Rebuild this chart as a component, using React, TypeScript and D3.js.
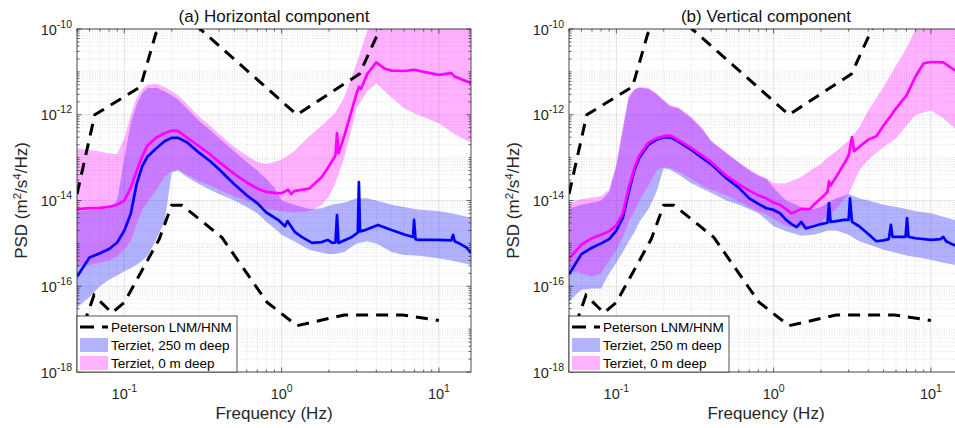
import React from 'react';
import * as d3 from 'd3';

// ---------------- DATA ----------------
// Frequencies (Hz) at which the percentile bands were read
const BAND_FREQ = [0.05, 0.06, 0.07, 0.08, 0.09, 0.1, 0.11, 0.12, 0.13, 0.14, 0.16, 0.18, 0.2, 0.22, 0.25, 0.3, 0.35, 0.4, 0.5, 0.6, 0.7, 0.8, 0.9, 1.0, 1.2, 1.5, 1.8, 2.0, 2.2, 2.5, 3.0, 3.5, 4, 5, 6, 7, 8, 10, 12, 14, 16];

// log10 PSD values, panel (a) horizontal
const A_BLUE_HI = [-14.25, -14.22, -14.2, -14.18, -14.0, -13.0, -12.2, -11.75, -11.5, -11.38, -11.37, -11.45, -11.55, -11.65, -11.85, -12.15, -12.35, -12.55, -12.85, -13.1, -13.3, -13.5, -13.7, -14.0, -14.1, -14.2, -14.18, -14.12, -14.08, -14.05, -13.95, -13.95, -14.0, -14.1, -14.15, -14.2, -14.22, -14.25, -14.3, -14.35, -14.4];
const A_BLUE_LO = [-16.5, -16.25, -16.0, -15.85, -15.75, -15.65, -15.58, -15.5, -15.4, -15.3, -14.9, -14.5, -13.35, -13.3, -13.45, -13.62, -13.75, -13.85, -14.0, -14.15, -14.3, -14.5, -14.65, -14.8, -14.95, -15.15, -15.22, -15.25, -15.25, -15.2, -15.0, -14.95, -15.0, -15.2, -15.27, -15.28, -15.3, -15.35, -15.4, -15.45, -15.5];
const A_PINK_HI = [-12.78, -12.82, -12.86, -12.9, -12.92, -12.55, -12.0, -11.6, -11.4, -11.3, -11.28, -11.35, -11.45, -11.55, -11.75, -12.05, -12.25, -12.45, -12.75, -12.95, -13.1, -13.15, -13.1, -13.05, -12.85, -12.5, -12.25, -12.1, -11.95, -11.6, -10.8, -10.05, -9.7, -9.6, -9.6, -9.6, -9.6, -9.6, -9.6, -9.6, -9.6];
const A_PINK_LO = [-15.55, -15.5, -15.45, -15.4, -15.3, -15.15, -14.95, -14.55, -14.2, -14.05, -13.75, -13.45, -13.3, -13.28, -13.4, -13.55, -13.65, -13.75, -13.9, -14.0, -14.1, -14.2, -14.22, -14.25, -14.28, -14.25, -14.1, -13.9, -13.6, -13.0, -11.85, -11.45, -11.27, -11.6, -11.85, -11.97, -12.05, -12.2, -12.4, -12.55, -12.65];

const A_MAG_FREQ = [0.05, 0.06, 0.07, 0.08, 0.09, 0.1, 0.11, 0.12, 0.13, 0.14, 0.16, 0.18, 0.2, 0.22, 0.25, 0.3, 0.35, 0.4, 0.5, 0.6, 0.7, 0.8, 0.9, 1.0, 1.1, 1.15, 1.2, 1.5, 1.8, 2.0, 2.2, 2.25, 2.3, 2.5, 3.0, 3.1, 3.2, 3.5, 4, 4.5, 5, 6, 7, 8, 10, 12, 12.5, 14, 16];
const A_MAG_VAL = [-14.2, -14.18, -14.17, -14.15, -14.1, -14.0, -13.7, -13.3, -12.97, -12.72, -12.53, -12.43, -12.37, -12.38, -12.53, -12.74, -12.92, -13.1, -13.38, -13.58, -13.72, -13.8, -13.82, -13.83, -13.75, -13.85, -13.78, -13.72, -13.45, -13.2, -12.95, -12.43, -12.9, -12.5, -11.5, -11.35, -11.4, -11.05, -10.78, -10.92, -10.97, -10.98, -10.95, -11.0, -11.07, -11.03, -11.1, -11.18, -11.26];

const A_BLU_FREQ = [0.05, 0.06, 0.07, 0.08, 0.09, 0.1, 0.11, 0.12, 0.13, 0.14, 0.16, 0.18, 0.2, 0.22, 0.25, 0.3, 0.35, 0.4, 0.5, 0.6, 0.7, 0.8, 0.95, 1.05, 1.09, 1.21, 1.34, 1.56, 1.8, 1.96, 2.1, 2.2, 2.25, 2.3, 2.8, 3.05, 3.1, 3.15, 3.4, 4.1, 5.0, 6.1, 6.85, 6.95, 7.1, 7.4, 9.9, 12.0, 12.3, 12.6, 13.3, 15, 16];
const A_BLU_VAL = [-15.78, -15.33, -15.23, -15.13, -14.98, -14.7, -14.3, -13.6, -13.2, -12.98, -12.78, -12.62, -12.54, -12.54, -12.64, -12.89, -13.08, -13.27, -13.62, -13.88, -14.06, -14.28, -14.45, -14.6, -14.48, -14.73, -14.85, -14.99, -14.97, -14.92, -14.99, -14.98, -14.34, -14.99, -14.85, -14.75, -13.57, -14.72, -14.69, -14.57, -14.69, -14.8, -14.85, -14.45, -14.9, -14.92, -14.92, -14.93, -14.8, -14.95, -14.99, -15.1, -15.22];

// log10 PSD values, panel (b) vertical
const B_BLUE_HI = [-14.2, -14.1, -14.05, -14.0, -13.8, -13.2, -12.35, -11.6, -11.42, -11.37, -11.4, -11.52, -11.68, -11.8, -11.86, -12.08, -12.33, -12.62, -12.9, -13.12, -13.3, -13.42, -13.5, -13.7, -14.0, -14.15, -14.2, -14.15, -14.05, -13.95, -13.85, -13.95, -14.0, -14.1, -14.15, -14.2, -14.25, -14.3, -14.38, -14.45, -14.5];
const B_BLUE_LO = [-16.35, -16.08, -16.05, -16.05, -15.7, -15.45, -15.2, -14.95, -14.75, -14.5, -14.2, -13.8, -13.25, -13.28, -13.4, -13.6, -13.72, -13.82, -14.0, -14.1, -14.2, -14.3, -14.45, -14.6, -14.72, -14.82, -14.8, -14.75, -14.7, -14.7, -14.8, -14.95, -15.02, -15.15, -15.22, -15.28, -15.32, -15.38, -15.45, -15.5, -15.52];
const B_PINK_HI = [-14.05, -13.97, -13.93, -13.9, -13.75, -13.15, -12.3, -11.55, -11.4, -11.35, -11.37, -11.5, -11.65, -11.78, -11.83, -12.05, -12.3, -12.6, -12.88, -13.1, -13.27, -13.4, -13.48, -13.6, -13.6, -13.45, -13.25, -13.15, -13.0, -12.85, -12.6, -12.3, -11.9, -11.35, -10.85, -10.45, -10.0, -9.6, -9.5, -9.5, -9.5];
const B_PINK_LO = [-15.62, -15.7, -15.78, -15.7, -15.4, -15.15, -14.85, -14.5, -14.25, -14.0, -13.65, -13.3, -13.22, -13.25, -13.33, -13.5, -13.65, -13.75, -13.88, -14.02, -14.15, -14.25, -14.32, -14.42, -14.6, -14.65, -14.6, -14.5, -14.35, -14.2, -13.85, -13.3, -13.05, -12.75, -12.55, -12.25, -12.0, -11.9, -12.08, -12.3, -12.4];

const B_MAG_FREQ = [0.05, 0.06, 0.07, 0.08, 0.09, 0.1, 0.11, 0.12, 0.13, 0.14, 0.16, 0.18, 0.2, 0.22, 0.25, 0.3, 0.35, 0.4, 0.5, 0.6, 0.7, 0.8, 0.9, 1.0, 1.1, 1.2, 1.3, 1.5, 1.7, 1.8, 2.0, 2.2, 2.25, 2.3, 2.5, 2.8, 3.0, 3.15, 3.25, 3.5, 4.0, 4.5, 5, 5.5, 6, 7, 8, 9, 10, 12, 14, 16];
const B_MAG_VAL = [-15.36, -15.03, -14.88, -14.8, -14.72, -14.58, -14.3, -13.7, -13.25, -12.95, -12.65, -12.55, -12.5, -12.48, -12.6, -12.78, -12.95, -13.1, -13.42, -13.62, -13.77, -13.88, -13.95, -14.05, -14.1, -14.2, -14.3, -14.2, -14.2, -14.1, -13.95, -13.8, -13.55, -13.65, -13.45, -13.15, -12.95, -12.52, -12.85, -12.75, -12.58, -12.5, -12.25, -12.05, -11.85, -11.55, -11.1, -10.8, -10.77, -10.78, -10.95, -11.05];

const B_BLU_FREQ = [0.05, 0.06, 0.07, 0.08, 0.09, 0.1, 0.11, 0.12, 0.13, 0.14, 0.16, 0.18, 0.2, 0.22, 0.25, 0.3, 0.35, 0.4, 0.5, 0.6, 0.7, 0.8, 0.9, 1.0, 1.1, 1.2, 1.3, 1.4, 1.5, 1.6, 1.8, 2.0, 2.2, 2.25, 2.3, 2.5, 2.8, 3.0, 3.06, 3.15, 3.5, 4, 4.5, 5, 5.4, 5.57, 5.7, 6, 6.9, 7.05, 7.2, 8, 10, 11.5, 12, 12.5, 14, 16];
const B_BLU_VAL = [-15.72, -15.25, -15.1, -15.0, -14.9, -14.7, -14.4, -13.8, -13.3, -13.0, -12.7, -12.58, -12.53, -12.52, -12.63, -12.82, -13.0, -13.15, -13.48, -13.7, -13.95, -14.08, -14.18, -14.22, -14.3, -14.45, -14.55, -14.62, -14.5, -14.65, -14.6, -14.55, -14.52, -14.06, -14.5, -14.48, -14.45, -14.45, -13.95, -14.5, -14.6, -14.78, -14.95, -14.93, -14.9, -14.57, -14.85, -14.85, -14.85, -14.41, -14.85, -14.88, -14.92, -14.9, -14.85, -14.95, -15.04, -15.06];

// Peterson noise models (frequency Hz, log10 PSD)
const NLNM_FREQ = [0.05, 0.0641, 0.0833, 0.1, 0.1667, 0.2, 0.2326, 0.4167, 0.8065, 1.25, 2.5, 5.88, 10];
const NLNM_VAL = [-17.34, -16.21, -16.62, -16.375, -14.9, -14.11, -14.11, -14.86, -16.37, -16.92, -16.67, -16.67, -16.8];
const NHNM_FREQ = [0.05, 0.0649, 0.1266, 0.1587, 0.2174, 0.2632, 1.25, 3.125, 4.545, 10];
const NHNM_VAL = [-13.85, -12.0, -11.35, -10.1, -9.65, -9.8, -12.0, -11.05, -9.74, -9.15];

const TITLES = ['(a) Horizontal component', '(b) Vertical component'];
const LEGEND_LABELS = ['Peterson LNM/HNM', 'Terziet, 250 m deep', 'Terziet, 0 m deep'];
const X_LABEL = 'Frequency (Hz)';
const X_DOMAIN = [0.05, 16];
const Y_DOMAIN = [1e-18, 1e-10];
const X_MAJOR = [0.1, 1, 10];
const Y_MAJOR = [1e-18, 1e-16, 1e-14, 1e-12, 1e-10];

// ---------------- LAYOUT ----------------
const W = 955, H = 428;
const PW = 394, TOP = 29, BOT = 372;
const FONT = '"Liberation Sans", Arial, Helvetica, sans-serif';
const AX = '#262626';
const BLUE = '#0000ff';
const MAG = '#ff00ff';

type Pt = [number, number];
const pts = (fr: number[], v: number[]): Pt[] => fr.map((f, i) => [f, Math.pow(10, v[i])] as Pt);

function Panel(props: any) {
  const { idx, left, bands, mag, blu } = props;
  const x = d3.scaleLog().domain(X_DOMAIN).range([left, left + PW]);
  const y = d3.scaleLog().domain(Y_DOMAIN).range([BOT, TOP]);
  const clipId = 'clip' + idx;

  const area = d3.area<any>().x((d) => x(d.f)).y0((d) => y(d.lo)).y1((d) => y(d.hi));
  const line = d3.line<Pt>().x((d) => x(d[0])).y((d) => y(d[1]));
  const mk = (lo: number[], hi: number[]) => BAND_FREQ.map((f, i) => ({ f, lo: Math.pow(10, lo[i]), hi: Math.pow(10, hi[i]) }));

  // ticks
  const xMinor: number[] = [];
  [0.01, 0.1, 1, 10].forEach((d) => {
    for (let m = 2; m <= 9; m++) {
      const v = m * d;
      if (v >= X_DOMAIN[0] - 1e-9 && v <= X_DOMAIN[1]) xMinor.push(v);
    }
  });
  const yMinor: number[] = [];
  for (let e = -18; e < -10; e++) {
    for (let m = 1; m <= 9; m++) {
      if (m === 1 && e % 2 === 0) continue;
      yMinor.push(m * Math.pow(10, e));
    }
  }
  const right = left + PW;

  return (
    <g>
      <defs>
        <clipPath id={clipId}>
          <rect x={left} y={TOP} width={PW} height={BOT - TOP} />
        </clipPath>
      </defs>
      <rect x={left} y={TOP} width={PW} height={BOT - TOP} fill="#fff" />
      {/* grid */}
      <g stroke={AX} fill="none">
        {xMinor.map((v, i) => (
          <line key={'gx' + i} x1={x(v)} x2={x(v)} y1={TOP} y2={BOT} strokeOpacity={0.22} strokeWidth={0.6} strokeDasharray="1 1.5" />
        ))}
        {yMinor.map((v, i) => (
          <line key={'gy' + i} x1={left} x2={right} y1={y(v)} y2={y(v)} strokeOpacity={0.22} strokeWidth={0.6} strokeDasharray="1 1.5" />
        ))}
        {X_MAJOR.map((v, i) => (
          <line key={'Gx' + i} x1={x(v)} x2={x(v)} y1={TOP} y2={BOT} strokeOpacity={0.15} strokeWidth={0.8} />
        ))}
        {Y_MAJOR.map((v, i) => (
          <line key={'Gy' + i} x1={left} x2={right} y1={y(v)} y2={y(v)} strokeOpacity={0.15} strokeWidth={0.8} />
        ))}
      </g>
      <g clipPath={`url(#${clipId})`}>
        <path d={area(mk(bands.blueLo, bands.blueHi)) || ''} fill={BLUE} fillOpacity={0.3} />
        <path d={area(mk(bands.pinkLo, bands.pinkHi)) || ''} fill={MAG} fillOpacity={0.3} />
        <path d={line(pts(blu[0], blu[1])) || ''} fill="none" stroke={BLUE} strokeWidth={2.7} strokeLinejoin="round" />
        <path d={line(pts(mag[0], mag[1])) || ''} fill="none" stroke={MAG} strokeWidth={2.7} strokeLinejoin="round" />
        <path d={line(pts(NLNM_FREQ, NLNM_VAL)) || ''} fill="none" stroke="#000" strokeWidth={3} strokeDasharray="12 8" />
        <path d={line(pts(NHNM_FREQ, NHNM_VAL)) || ''} fill="none" stroke="#000" strokeWidth={3} strokeDasharray="12 8" />
      </g>
      {/* ticks */}
      <g stroke={AX} strokeWidth={0.7}>
        {X_MAJOR.map((v, i) => (
          <g key={'tx' + i}>
            <line x1={x(v)} x2={x(v)} y1={BOT} y2={BOT - 4.5} />
            <line x1={x(v)} x2={x(v)} y1={TOP} y2={TOP + 4.5} />
          </g>
        ))}
        {xMinor.map((v, i) => (
          <g key={'tmx' + i}>
            <line x1={x(v)} x2={x(v)} y1={BOT} y2={BOT - 2.5} />
            <line x1={x(v)} x2={x(v)} y1={TOP} y2={TOP + 2.5} />
          </g>
        ))}
        {Y_MAJOR.map((v, i) => (
          <g key={'ty' + i}>
            <line x1={left} x2={left + 4.5} y1={y(v)} y2={y(v)} />
            <line x1={right} x2={right - 4.5} y1={y(v)} y2={y(v)} />
          </g>
        ))}
        {yMinor.map((v, i) => (
          <g key={'tmy' + i}>
            <line x1={left} x2={left + 2.5} y1={y(v)} y2={y(v)} />
            <line x1={right} x2={right - 2.5} y1={y(v)} y2={y(v)} />
          </g>
        ))}
      </g>
      <rect x={left} y={TOP} width={PW} height={BOT - TOP} fill="none" stroke={AX} strokeWidth={0.8} />
      {/* tick labels */}
      <g fill={AX} fontFamily={FONT}>
        {X_MAJOR.map((v, i) => (
          <text key={'lx' + i} x={x(v)} y={399} textAnchor="middle" fontSize={14.5}>
            10<tspan dy={-7} fontSize={10.5}>{String(Math.round(Math.log10(v)))}</tspan>
          </text>
        ))}
        {Y_MAJOR.map((v, i) => (
          <text key={'ly' + i} x={left - 5} y={y(v) + 5.5} textAnchor="end" fontSize={14.5}>
            10<tspan dy={-7} fontSize={10.5}>{String(Math.round(Math.log10(v)))}</tspan>
          </text>
        ))}
        <text x={(left + right) / 2} y={419} textAnchor="middle" fontSize={17}>{X_LABEL}</text>
        <text transform={`translate(${left - 50},${(TOP + BOT) / 2}) rotate(-90)`} textAnchor="middle" fontSize={17}>
          PSD (m<tspan dy={-6} fontSize={11.5}>2</tspan>
          <tspan dy={6} fontSize={17}>/s</tspan>
          <tspan dy={-6} fontSize={11.5}>4</tspan>
          <tspan dy={6} fontSize={17}>/Hz)</tspan>
        </text>
        <text x={(left + right) / 2} y={22} textAnchor="middle" fontSize={17} fill="#111">{TITLES[idx]}</text>
      </g>
      {/* legend */}
      <g fontFamily={FONT}>
        <rect x={left} y={316} width={160} height={BOT - 316} fill="#fff" stroke={AX} strokeWidth={0.8} />
        <line x1={left + 3} x2={left + 31} y1={327} y2={327} stroke="#000" strokeWidth={3} strokeDasharray="14 8" />
        <rect x={left + 3} y={338} width={28} height={14} fill={BLUE} fillOpacity={0.3} />
        <rect x={left + 3} y={356} width={28} height={14} fill={MAG} fillOpacity={0.3} />
        {LEGEND_LABELS.map((t, i) => (
          <text key={'lg' + i} x={left + 34} y={332 + i * 18} fontSize={13.5} fill="#000">{t}</text>
        ))}
      </g>
    </g>
  );
}

export default function App() {
  const panels = [
    {
      idx: 0,
      left: 77,
      bands: { blueLo: A_BLUE_LO, blueHi: A_BLUE_HI, pinkLo: A_PINK_LO, pinkHi: A_PINK_HI },
      mag: [A_MAG_FREQ, A_MAG_VAL],
      blu: [A_BLU_FREQ, A_BLU_VAL],
    },
    {
      idx: 1,
      left: 569,
      bands: { blueLo: B_BLUE_LO, blueHi: B_BLUE_HI, pinkLo: B_PINK_LO, pinkHi: B_PINK_HI },
      mag: [B_MAG_FREQ, B_MAG_VAL],
      blu: [B_BLU_FREQ, B_BLU_VAL],
    },
  ];
  return (
    <svg width={W} height={H} style={{ position: 'absolute', left: 0, top: 0, background: '#fff' }} xmlns="http://www.w3.org/2000/svg">
      <rect x={0} y={0} width={W} height={H} fill="#fff" />
      {panels.map((p) => (
        <Panel key={p.idx} {...p} />
      ))}
    </svg>
  );
}
